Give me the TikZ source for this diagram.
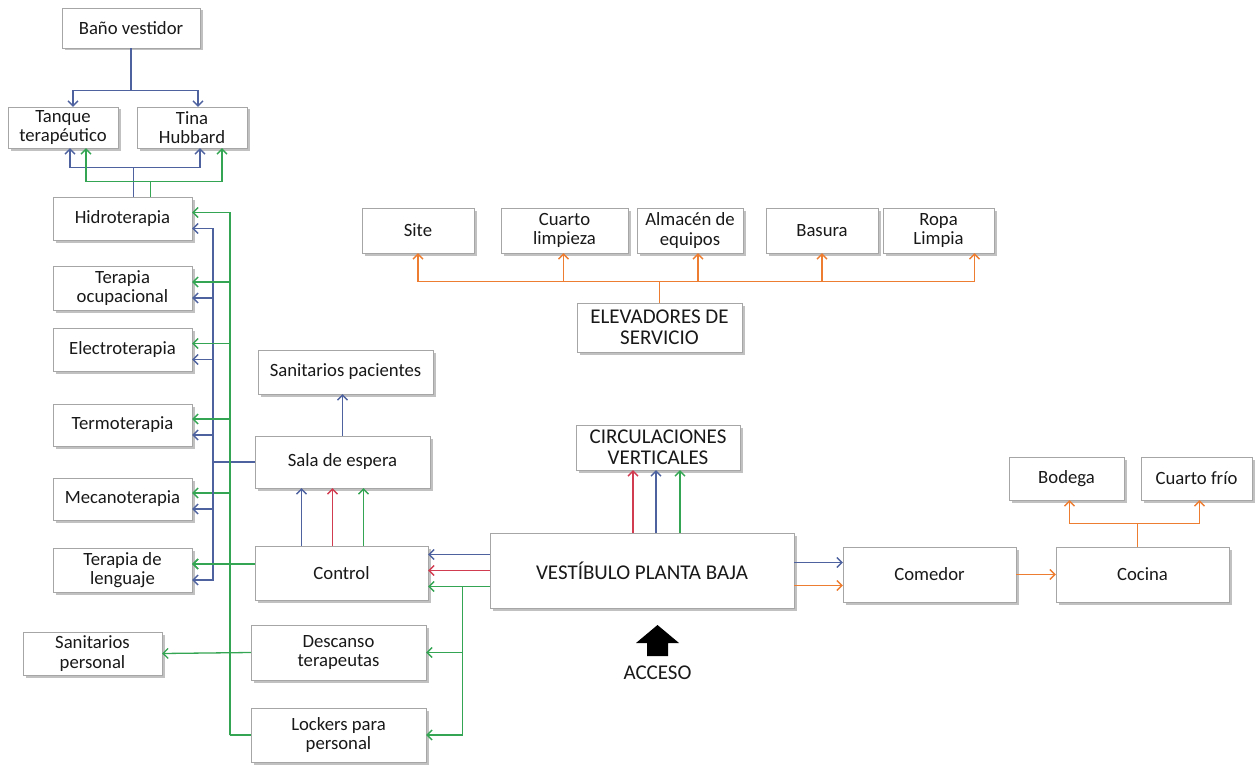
\documentclass[tikz,border=0pt]{standalone}
\usepackage{fontspec}
\setmainfont{Carlito}
\definecolor{lnblue}{RGB}{78, 98, 160}
\definecolor{lngreen}{RGB}{52, 165, 82}
\definecolor{lnred}{RGB}{210, 60, 80}
\definecolor{lnorange}{RGB}{237, 125, 49}
\usepackage{tikz}
\usetikzlibrary{
  arrows.meta,
  positioning,
  calc,
  shadows
}

\begin{document}
\begin{tikzpicture}[x=1pt, y=-1pt,
  font=\fontsize{18.7}{19.5}\selectfont,
  >={Straight Barb[length=5pt, width=10pt]},
  room/.style={draw=black!35, fill=white, text=black!90, align=center, inner sep=2pt,
               drop shadow={shadow xshift=2.5pt, shadow yshift=-2.5pt, fill=black!35, opacity=.7}},
  caps/.style={font=\fontsize{21}{21}\selectfont},
  sz/.style 2 args={minimum width=#1pt, minimum height=#2pt},
  bl/.style={draw=lnblue, line width=1.3pt},
  gr/.style={draw=lngreen, line width=1.3pt},
  rd/.style={draw=lnred, line width=1.3pt},
  og/.style={draw=lnorange, line width=1.3pt}]
\useasboundingbox (0,0) rectangle (1257,765);

\node[room, sz={138}{40}] (bano) at (131,28) {Baño vestidor};
\node[room, sz={110}{41}] (tanque) at (63,127.5) {Tanque\\terapéutico};
\node[room, sz={110}{41}] (tina) at (192,127.5) {Tina\\Hubbard};
\node[room, sz={139}{43}] (hidro) at (122.5,218.5) {Hidroterapia};
\node[room, sz={139}{44}] (ocup) at (122.5,288) {Terapia\\ocupacional};
\node[room, sz={139}{43}] (electro) at (122.5,349.5) {Electroterapia};
\node[room, sz={139}{42}] (termo) at (122.5,425) {Termoterapia};
\node[room, sz={139}{42}] (mecano) at (122.5,499) {Mecanoterapia};
\node[room, sz={139}{44}] (lenguaje) at (122.5,570) {Terapia de\\lenguaje};
\node[room, sz={139}{43}] (sanpers) at (92.5,653.5) {Sanitarios\\personal};

\node[room, sz={175}{44}] (sanpac) at (345.5,372) {Sanitarios pacientes};
\node[room, sz={175}{52}] (sala) at (342.5,462) {Sala de espera};
\node[room, sz={173}{54}] (control) at (341.5,573) {Control};
\node[room, sz={175}{55}] (descanso) at (338.5,652.5) {Descanso\\terapeutas};
\node[room, sz={175}{54}] (lockers) at (338.5,735) {Lockers para\\personal};

\node[room, caps, sz={304}{75}] (vest) at (642,570.5) {VESTÍBULO PLANTA BAJA};
\node[room, caps, sz={164}{45}] (circ) at (658,447.5) {CIRCULACIONES\\VERTICALES};
\node[room, sz={173}{55}] (comedor) at (929.5,574.5) {Comedor};
\node[room, sz={173}{55}] (cocina) at (1142.5,574.5) {Cocina};
\node[room, sz={115}{43}] (bodega) at (1066.5,478.5) {Bodega};
\node[room, sz={111}{43}] (frio) at (1196.5,478.5) {Cuarto frío};

\node[room, sz={112}{45}] (site) at (418,230.5) {Site};
\node[room, sz={127}{45}] (limpieza) at (564.5,230.5) {Cuarto\\limpieza};
\node[room, sz={106}{45}] (almacen) at (690,230.5) {Almacén de\\equipos};
\node[room, sz={112}{45}] (basura) at (822,230.5) {Basura};
\node[room, sz={111}{45}] (ropa) at (938.5,230.5) {Ropa\\Limpia};
\node[room, caps, sz={165}{49}] (elev) at (659.5,327.5) {ELEVADORES DE\\SERVICIO};

\fill (636,643) -- (657.5,625) -- (679,643) -- (668,643) -- (668,656) -- (647,656) -- (647,643) -- cycle;
\node[caps, text=black!90] (acceso) at (657.5,673) {ACCESO};

\draw[bl] (bano.south) -- ++(0,42) coordinate (b1);
\draw[bl,->] (b1) -| ([xshift=10pt]tanque.north);
\draw[bl,->] (b1) -| ([xshift=6pt]tina.north);

\draw[bl] ([xshift=11pt]hidro.north) -- ++(0,-29) coordinate (h1);
\draw[bl,->] (h1) -| ([xshift=7pt]tanque.south);
\draw[bl,->] (h1) -| ([xshift=8pt]tina.south);
\draw[gr] ([xshift=28pt]hidro.north) -- ++(0,-15) coordinate (h2);
\draw[gr,->] (h2) -| ([xshift=23pt]tanque.south);
\draw[gr,->] (h2) -| ([xshift=30pt]tina.south);

\coordinate (bb) at (213,462);
\coordinate (gb) at (230,735);
\draw[bl] (sala.west) -- (bb);
\draw[gr] (lockers.west) -- (gb);
\foreach \n in {hidro,ocup,electro,termo,mecano,lenguaje}{
  \draw[bl,->] (bb) |- ([yshift=-10pt]\n.east);
  \draw[gr,->] (gb) |- ([yshift=6pt]\n.east);
}
\draw[gr,->] ([yshift=9pt]control.west) -- ([yshift=6pt]lenguaje.east);
\draw[gr,->] (descanso.west) -- (sanpers.east);

\draw[bl,->] ([xshift=-40pt]control.north) -- ([xshift=-40pt]control.north |- sala.south);
\draw[rd,->] ([xshift=-9pt]control.north) -- ([xshift=-9pt]control.north |- sala.south);
\draw[gr,->] ([xshift=22pt]control.north) -- ([xshift=22pt]control.north |- sala.south);
\draw[bl,->] (sala.north) -- (sala.north |- sanpac.south);

\draw[bl,->] ([yshift=16pt]vest.west) -- ([yshift=16pt]vest.west -| control.east);
\draw[rd,->] (vest.west) -- (vest.west -| control.east);
\draw[gr,->] ([yshift=-16pt]vest.west) -- ([yshift=-16pt]vest.west -| control.east);
\draw[gr] ([yshift=-16pt]vest.west) ++(-27,0) coordinate (g2);
\draw[gr,->] (g2) |- (descanso.east);
\draw[gr,->] (g2) |- (lockers.east);

\draw[rd,->] ([xshift=-25pt]circ.south |- vest.north) -- ([xshift=-25pt]circ.south);
\draw[bl,->] ([xshift=-2pt]circ.south |- vest.north) -- ([xshift=-2pt]circ.south);
\draw[gr,->] ([xshift=22pt]circ.south |- vest.north) -- ([xshift=22pt]circ.south);

\draw[bl,->] ([yshift=8pt]vest.east) -- ([yshift=8pt]vest.east -| comedor.west);
\draw[og,->] ([yshift=-15pt]vest.east) -- ([yshift=-15pt]vest.east -| comedor.west);
\draw[og,->] (comedor.east) -- (cocina.west);

\draw[og] ([xshift=-5pt]cocina.north) -- ++(0,-23) coordinate (c1);
\draw[og,->] (c1) -| ([xshift=3pt]bodega.south);
\draw[og,->] (c1) -| ([xshift=3pt]frio.south);

\draw[og] (elev.north) -- ++(0,-21) coordinate (e1);
\foreach \n/\dx in {site/0pt,limpieza/-1pt,almacen/8pt,basura/0pt,ropa/36pt}{
  \draw[og,->] (e1) -| ([xshift=\dx]\n.south);
}
\end{tikzpicture}
\end{document}
